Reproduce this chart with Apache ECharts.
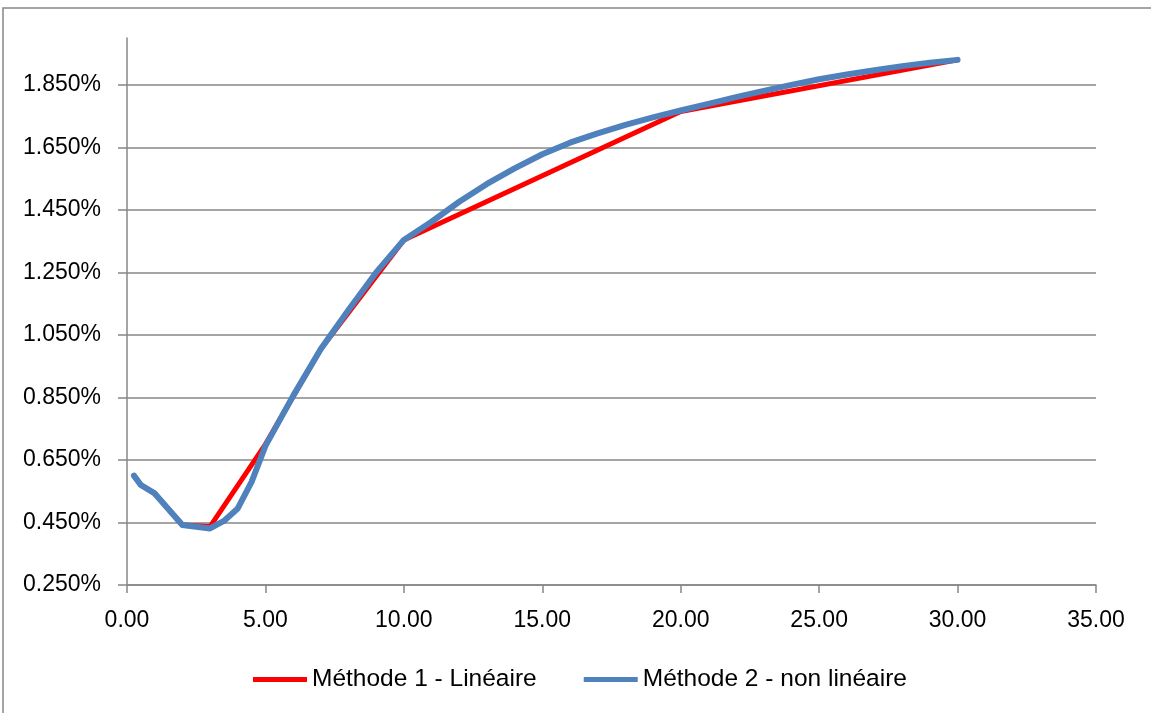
<!DOCTYPE html>
<html>
<head>
<meta charset="utf-8">
<script src="https://cdn.jsdelivr.net/npm/echarts@6/dist/echarts.min.js"></script>
<style>
html,body{margin:0;padding:0;background:#fff;}
#c{width:1151px;height:713px;}
</style>
</head>
<body>
<div id="c"></div>
<script>
// Series names
var seriesNames = ['Méthode 1 - Linéaire', 'Méthode 2 - non linéaire'];
// Méthode 1 (linear) knots: maturity (x) and rate in %
var m1X = [0.25, 0.5, 1, 2, 3, 5, 7, 10, 20, 30];
var m1Y = [0.600, 0.570, 0.543, 0.442, 0.437, 0.700, 1.005, 1.354, 1.765, 1.930];
// Méthode 2 (non linear) points
var m2X = [0.25, 0.5, 1, 2, 3, 3.5, 4, 4.5, 5, 6, 7, 8, 9, 10, 11, 12, 13, 14, 15, 16, 17, 18, 19, 20, 21, 22, 23, 24, 25, 26, 27, 28, 29, 30];
var m2Y = [0.600, 0.570, 0.543, 0.442, 0.431, 0.455, 0.495, 0.580, 0.695, 0.855, 1.005, 1.130, 1.250, 1.354, 1.412, 1.476, 1.533, 1.583, 1.628, 1.665, 1.695, 1.722, 1.746, 1.768, 1.789, 1.811, 1.831, 1.850, 1.868, 1.883, 1.897, 1.910, 1.921, 1.930];
// Tick labels
var yTicks = [0.25, 0.45, 0.65, 0.85, 1.05, 1.25, 1.45, 1.65, 1.85];
var xTicks = [0, 5, 10, 15, 20, 25, 30, 35];

function pairs(xs, ys){ return xs.map(function(x,i){ return [x, ys[i]]; }); }

var grey = '#878787';
var fontFam = 'Liberation Sans';
var chart = echarts.init(document.getElementById('c'), null, {renderer:'canvas'});
chart.setOption({
  backgroundColor: '#ffffff',
  animation: false,
  graphic: [{
    type: 'rect',
    shape: {x: 3, y: 8, width: 1200, height: 760},
    style: {fill: 'none', stroke: grey, lineWidth: 1.5},
    silent: true
  }],
  grid: {left: 127, right: 55, top: 38, bottom: 128, containLabel: false},
  legend: {
    data: seriesNames,
    left: 248,
    top: 662,
    itemWidth: 54,
    itemHeight: 5,
    itemGap: 47,
    icon: 'rect',
    textStyle: {fontFamily: fontFam, fontSize: 24.5, color: '#000'}
  },
  xAxis: {
    type: 'value',
    min: xTicks[0],
    max: xTicks[xTicks.length-1],
    interval: 5,
    axisLine: {show: true, onZero: false, lineStyle: {color: grey, width: 1.5}},
    axisTick: {show: true, length: 8, lineStyle: {color: grey, width: 1.5}},
    splitLine: {show: false},
    axisLabel: {
      margin: 24,
      color: '#000',
      fontFamily: fontFam,
      fontSize: 23,
      formatter: function(v){ return v.toFixed(2); }
    }
  },
  yAxis: {
    type: 'value',
    min: 0.25,
    max: 2.0,
    interval: 0.2,
    axisLine: {show: true, lineStyle: {color: grey, width: 1.5}},
    axisTick: {show: true, length: 9, customValues: yTicks, lineStyle: {color: grey, width: 1.5}},
    splitLine: {show: true, lineStyle: {color: grey, width: 1.5}},
    axisLabel: {
      margin: 26,
      color: '#000',
      fontFamily: fontFam,
      fontSize: 23,
      customValues: yTicks,
      formatter: function(v){ return v.toFixed(3) + '%'; }
    }
  },
  series: [{
    name: seriesNames[0],
    type: 'line',
    data: pairs(m1X, m1Y),
    showSymbol: false,
    symbol: 'none',
    color: '#FF0000',
    lineStyle: {color: '#FF0000', width: 5, cap: 'round', join: 'round'}
  }, {
    name: seriesNames[1],
    type: 'line',
    data: pairs(m2X, m2Y),
    showSymbol: false,
    symbol: 'none',
    color: '#4F81BD',
    lineStyle: {color: '#4F81BD', width: 6, cap: 'round', join: 'round'}
  }]
});
</script>
</body>
</html>
